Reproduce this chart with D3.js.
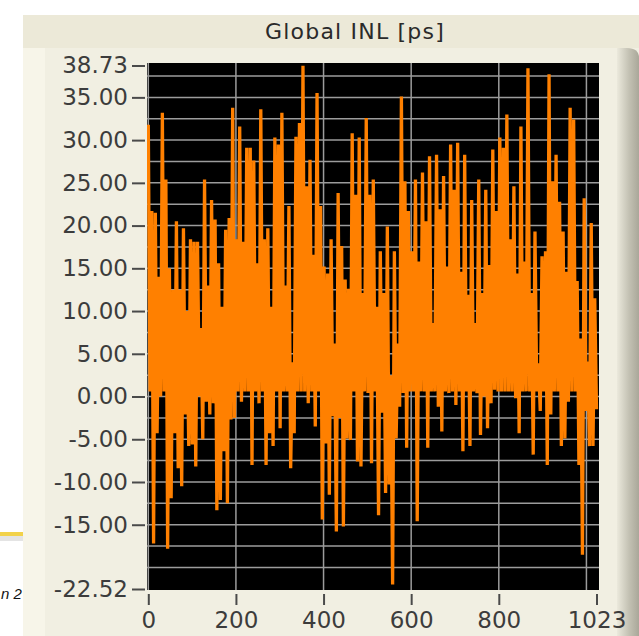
<!DOCTYPE html>
<meta charset="utf-8">
<style>
body { margin: 0; background: #fff; }
svg { display: block; }
.axis text { font-family: "DejaVu Sans", sans-serif; font-size: 23px; fill: #3c3c3c; }
.axis line { stroke: #4a4a4a; stroke-width: 2px; }
.axis path { display: none; }
.grid line { stroke: #9c9c9c; stroke-width: 1.5px; }
.trace { fill: none; stroke: #ff8000; stroke-width: 3.3px; stroke-linejoin: miter; stroke-miterlimit: 1.5; }
</style>
<body>
<script src="https://d3js.org/d3.v7.min.js"></script>
<script>

var title = "Global INL [ps]";
var yTicks = [38.73, 35, 30, 25, 20, 15, 10, 5, 0, -5, -10, -15, -22.52];
var xTicks = [0, 200, 400, 600, 800, 1023];

// INL [ps], pairs of (upper, lower) excursions, ~4 codes apart
var inlCodes0 = [31.8, 0.6, 21.7, -17.2, 21.5, -4.3, 14.0, 0.0, 33.2, 0.6, 25.4, -17.8, 15.0, -11.9, 12.5, -4.3,
  20.5, -8.4, 12.5, -10.5, 19.7, -2.1, 10.0, -5.8, 18.4, -5.6, 18.1, -8.2, 18.1, 0.0, 8.0, -5.0,
  25.4, -0.6, 13.0, -2.1, 23.0, -0.8, 20.7, -13.3, 15.6, -12.1, 10.5, -6.4, 19.5, -12.5, 20.9, -2.7,
  33.8, -2.5, 18.4, 0.6, 31.6, -0.6, 18.1, 0.6, 29.1, 0.6, 29.1, -8.0, 27.6, 0.6, 15.6, -0.8];
var inlCodes256 = [33.6, 0.6, 18.4, -8.0, 19.7, -4.3, 10.5, -5.8, 30.3, 0.6, 29.5, -3.7, 33.2, 0.6, 13.0, 0.6,
  22.3, -8.4, 4.0, -4.3, 30.4, 0.6, 32.0, 0.6, 38.7, 0.6, 24.6, -0.8, 27.7, 0.6, 16.6, -3.5,
  35.5, 0.6, 22.3, -14.4, 15.2, -5.5, 14.4, -11.5, 18.4, -2.3, 6.2, -15.8, 23.8, -2.5, 17.6, -15.2,
  13.7, -4.9, 12.6, -5.1, 30.8, 0.6, 23.6, -7.6, 30.3, -8.2, 12.1, 0.6, 32.6, 0.4, 23.6, -7.8];
var inlCodes512 = [25.4, 0.6, 10.5, -13.9, 17.0, -1.9, 12.1, -11.3, 19.9, -10.3, 2.5, -22.0, 17.0, -4.9, 6.2, -1.2,
  35.1, 0.4, 25.2, -6.0, 21.7, 0.6, 17.0, 0.6, 25.4, -14.6, 15.8, 0.6, 26.2, 0.6, 20.5, -6.0,
  28.1, 0.6, 8.6, 0.6, 28.3, -1.2, 21.9, -4.1, 25.8, 0.6, 15.2, 0.4, 29.5, 0.6, 24.2, -1.0,
  29.7, 0.6, 14.6, -6.4, 28.3, 0.6, 11.9, -5.8, 23.0, 0.6, 8.6, 0.4, 25.4, -4.5, 12.1, 0.0];
var inlCodes768 = [24.2, -3.7, 15.4, -0.8, 28.9, 0.8, 21.7, 0.6, 30.3, 0.6, 29.1, 0.6, 33.0, 0.6, 18.4, 0.6,
  24.6, -0.2, 14.4, -4.3, 31.6, 0.6, 15.8, 0.6, 38.4, 0.6, 12.1, -6.8, 19.3, 0.6, 3.9, -1.7,
  16.4, 0.6, 17.0, -8.0, 37.7, -2.1, 25.2, 0.6, 28.3, 0.6, 22.8, -5.8, 19.3, -4.9, 14.6, -0.6,
  33.8, 0.6, 32.4, 0.6, 13.5, -8.0, 6.8, -18.5, 23.2, -1.7, 4.1, -5.8, 20.3, -5.8, 11.5, -1.5];

var inl = inlCodes0.concat(inlCodes256, inlCodes512, inlCodes768);
var lastCode = 1023;
var data = inl.map(function(v, i) { return { code: i * lastCode / (inl.length - 1), v: v }; });

var width = 639, height = 636;

var svg = d3.select("body").append("svg")
    .attr("width", width)
    .attr("height", height);

// bits of the slide behind the panel
svg.append("rect").attr("x", 0).attr("y", 532).attr("width", 24).attr("height", 4).attr("fill", "#f2d24a");
svg.append("rect").attr("x", 0).attr("y", 536).attr("width", 24).attr("height", 5).attr("fill", "#e4e4e4");
svg.append("text").attr("x", 1).attr("y", 599)
    .attr("font-family", "Liberation Sans, sans-serif").attr("font-style", "italic")
    .attr("font-size", 15).attr("fill", "#111").text("n 2");

var defs = svg.append("defs");
var bevel = defs.append("linearGradient").attr("id", "bevel");
bevel.append("stop").attr("offset", "0%").attr("stop-color", "#ebe9dc");
bevel.append("stop").attr("offset", "55%").attr("stop-color", "#c3c1b3");
bevel.append("stop").attr("offset", "100%").attr("stop-color", "#a9a799");

// panel
svg.append("rect").attr("x", 23).attr("y", 15).attr("width", width - 23).attr("height", height - 15).attr("fill", "#f1efe2");
svg.append("rect").attr("x", 23).attr("y", 48).attr("width", 22).attr("height", height - 48).attr("fill", "#f7f5e9");
svg.append("path")
    .attr("d", "M617,48 H627 Q639,48 639,58 V636 H617 Z")
    .attr("fill", "url(#bevel)");
svg.append("rect").attr("x", 23).attr("y", 15).attr("width", width - 23).attr("height", 33).attr("fill", "#ece9d8");
svg.append("text")
    .attr("x", 355).attr("y", 39)
    .attr("text-anchor", "middle")
    .attr("font-family", "DejaVu Sans, sans-serif")
    .attr("font-size", 22)
    .attr("letter-spacing", 1.2)
    .attr("fill", "#2a2a2a")
    .text(title);

var x = d3.scaleLinear().domain([0, lastCode]).range([148.3, 596.5]);
var y = d3.scaleLinear().domain([-22.52, 38.73]).range([589, 65.5]);

// plot area
svg.append("rect")
    .attr("x", 147).attr("y", 63)
    .attr("width", 599 - 147).attr("height", 590 - 63)
    .attr("fill", "#000");

defs.append("clipPath").attr("id", "plotclip")
  .append("rect").attr("x", 147).attr("y", 63).attr("width", 599 - 147).attr("height", 590 - 63);

var grid = svg.append("g").attr("class", "grid").attr("clip-path", "url(#plotclip)");
grid.selectAll(".hg")
    .data(d3.range(-20, 38.73, 2.5))
  .enter().append("line")
    .attr("x1", 147).attr("x2", 599)
    .attr("y1", function(d) { return y(d); })
    .attr("y2", function(d) { return y(d); });
grid.selectAll(".vg")
    .data([0, 200, 400, 600, 800, 1000])
  .enter().append("line")
    .attr("y1", 63).attr("y2", 590)
    .attr("x1", function(d) { return x(d); })
    .attr("x2", function(d) { return x(d); });

var line = d3.line()
    .x(function(d) { return x(d.code); })
    .y(function(d) { return y(d.v); });

svg.append("path")
    .datum(data)
    .attr("class", "trace")
    .attr("clip-path", "url(#plotclip)")
    .attr("d", line);

var fmt = d3.format(".2f");
svg.append("g")
    .attr("class", "axis")
    .attr("transform", "translate(145,0)")
    .call(d3.axisLeft(y).tickValues(yTicks).tickSize(13).tickPadding(4)
      .tickFormat(function(d) { return fmt(d).replace("\u2212", "-"); }));

svg.append("g")
    .attr("class", "axis")
    .attr("transform", "translate(0,594)")
    .call(d3.axisBottom(x).tickValues(xTicks).tickSize(11).tickPadding(7)
      .tickFormat(d3.format("d")));

</script>
